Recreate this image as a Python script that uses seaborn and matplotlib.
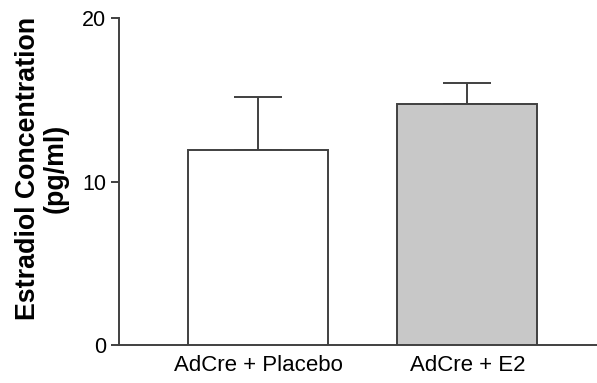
import matplotlib
matplotlib.use("Agg")
import matplotlib.pyplot as plt
import seaborn as sns
import pandas as pd

groups = ["AdCre + Placebo", "AdCre + E2"]
means = [11.9, 14.75]
sem = [3.25, 1.3]
fills = ["#ffffff", "#c8c8c8"]

sns.set_theme(style="ticks")
plt.rcParams["font.family"] = ["Liberation Sans", "DejaVu Sans"]

line_col = "#404040"
fig = plt.figure(figsize=(5.97, 3.83), dpi=100)
ax = fig.add_axes([0.1993, 0.0992, 0.8007, 0.8538])

df = pd.DataFrame({"group": groups, "value": means})
sns.barplot(data=df, x="group", y="value", hue="group", palette=fills,
            errorbar=None, width=0.67, edgecolor=line_col, linewidth=1.4,
            legend=False, ax=ax, zorder=3)

# upper-only error bars (SEM)
ax.errorbar(range(len(groups)), means, yerr=[[0] * len(sem), sem], fmt="none",
            ecolor=line_col, elinewidth=1.4, capsize=17.5, capthick=1.4, zorder=2)

ax.set_xlim(-0.667, 1.62)
ax.set_ylim(0, 20)
ax.set_yticks([0, 10, 20])
ax.set_xlabel("")
ax.set_ylabel("Estradiol Concentration\n(pg/ml)", fontsize=19.3, fontweight="bold",
              color="black", linespacing=1.1)
ax.yaxis.set_label_coords(-0.105, 0.54)

sns.despine(ax=ax)
for s in ["left", "bottom"]:
    ax.spines[s].set_color(line_col)
    ax.spines[s].set_linewidth(1.4)
ax.tick_params(axis="y", length=6, width=1.4, color=line_col, labelsize=15.5,
               labelcolor="black", pad=3)
ax.tick_params(axis="x", length=0, labelsize=16, labelcolor="black", pad=7)

fig.savefig("out.png", dpi=100)
